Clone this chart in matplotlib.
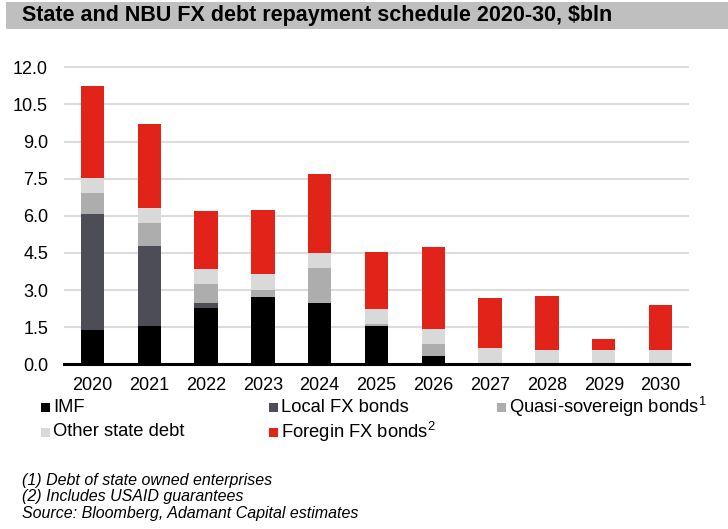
import matplotlib
matplotlib.use("Agg")
import matplotlib.pyplot as plt
from matplotlib.patches import Rectangle
import numpy as np

plt.rcParams['font.family'] = ['Liberation Sans', 'DejaVu Sans']
plt.rcParams['mathtext.fontset'] = 'custom'
plt.rcParams['mathtext.rm'] = 'Liberation Sans'

years = ['2020', '2021', '2022', '2023', '2024', '2025', '2026', '2027', '2028', '2029', '2030']
imf = [1.37, 1.56, 2.29, 2.73, 2.49, 1.55, 0.32, 0.07, 0.0, 0.0, 0.0]
local_fx = [4.69, 3.22, 0.20, 0.0, 0.0, 0.0, 0.0, 0.0, 0.0, 0.0, 0.0]
quasi = [0.88, 0.92, 0.77, 0.29, 1.42, 0.09, 0.52, 0.0, 0.0, 0.0, 0.0]
other = [0.60, 0.62, 0.61, 0.62, 0.60, 0.61, 0.60, 0.60, 0.59, 0.59, 0.59]
foreign = [3.72, 3.38, 2.33, 2.58, 3.19, 2.29, 3.29, 2.00, 2.18, 0.43, 1.81]

series_names = ['IMF', 'Local FX bonds', 'Quasi-sovereign bonds', 'Other state debt', 'Foregin FX bonds']
series_sup = ['', '', '1', '', '2']
colors = ['#000000', '#4d4d57', '#adadad', '#d9d9d9', '#e2231a']

title = 'State and NBU FX debt repayment schedule 2020-30, $bln'
notes = ['(1) Debt of state owned enterprises',
         '(2) Includes USAID guarantees',
         'Source: Bloomberg, Adamant Capital estimates']

W, H = 728, 529
fig = plt.figure(figsize=(W / 100, H / 100), dpi=100)

# title band
fig.patches.append(Rectangle((6 / W, 1 - 29.3 / H), 1 - 6 / W, 27.6 / H, transform=fig.transFigure,
                             facecolor='#bfbfbf', edgecolor='none', zorder=0))
fig.text(22 / W, 1 - 16 / H, title.replace('$', r'\$'), fontsize=15.5, fontweight='bold',
         va='center', ha='left', color='#000000')

ax = fig.add_axes([64 / W, 1 - 364.3 / H, 625 / W, (364.3 - 63.6) / H])
data = [imf, local_fx, quasi, other, foreign]
x = np.arange(len(years))
bottom = np.zeros(len(years))
for vals, c, name in zip(data, colors, series_names):
    vals = np.array(vals)
    ax.bar(x, vals, width=0.41, bottom=bottom, color=c, edgecolor='none', label=name, zorder=3)
    bottom += vals

ax.set_xlim(-0.5, len(years) - 0.5)
ax.set_ylim(0, 12.15)
ax.set_yticks(np.arange(0, 12.01, 1.5))
ax.set_yticklabels([f'{v:.1f}' for v in np.arange(0, 12.01, 1.5)])
ax.set_xticks(x)
ax.set_xticklabels(years)
ax.tick_params(axis='both', length=0, labelsize=13, colors='#000000')
ax.tick_params(axis='y', pad=11.5)
ax.tick_params(axis='x', pad=9)
ax.grid(axis='y', color='#dcdcdc', linewidth=1.5, zorder=0)
for s in ['top', 'right', 'left']:
    ax.spines[s].set_visible(False)
ax.spines['bottom'].set_linewidth(2.2)
ax.spines['bottom'].set_color('#000000')
ax.spines['bottom'].set_zorder(5)

# manual legend
pos = [(41, 407), (269, 407), (497, 407), (41, 432), (269, 432)]
for (px, py), name, sup, c in zip(pos, series_names, series_sup, colors):
    fig.patches.append(Rectangle((px / W, 1 - (py + 4.5) / H), 9 / W, 9 / H,
                                 transform=fig.transFigure, facecolor=c, edgecolor='none'))
    label = name if not sup else name + r'$^{' + sup + '}$'
    fig.text((px + 12) / W, 1 - py / H, label, fontsize=13.2, va='center', ha='left')

for i, n in enumerate(notes):
    fig.text(22 / W, 1 - (480 + i * 16.8) / H, n, fontsize=11.5, style='italic', va='center', ha='left')

fig.savefig('out.png', dpi=100)
